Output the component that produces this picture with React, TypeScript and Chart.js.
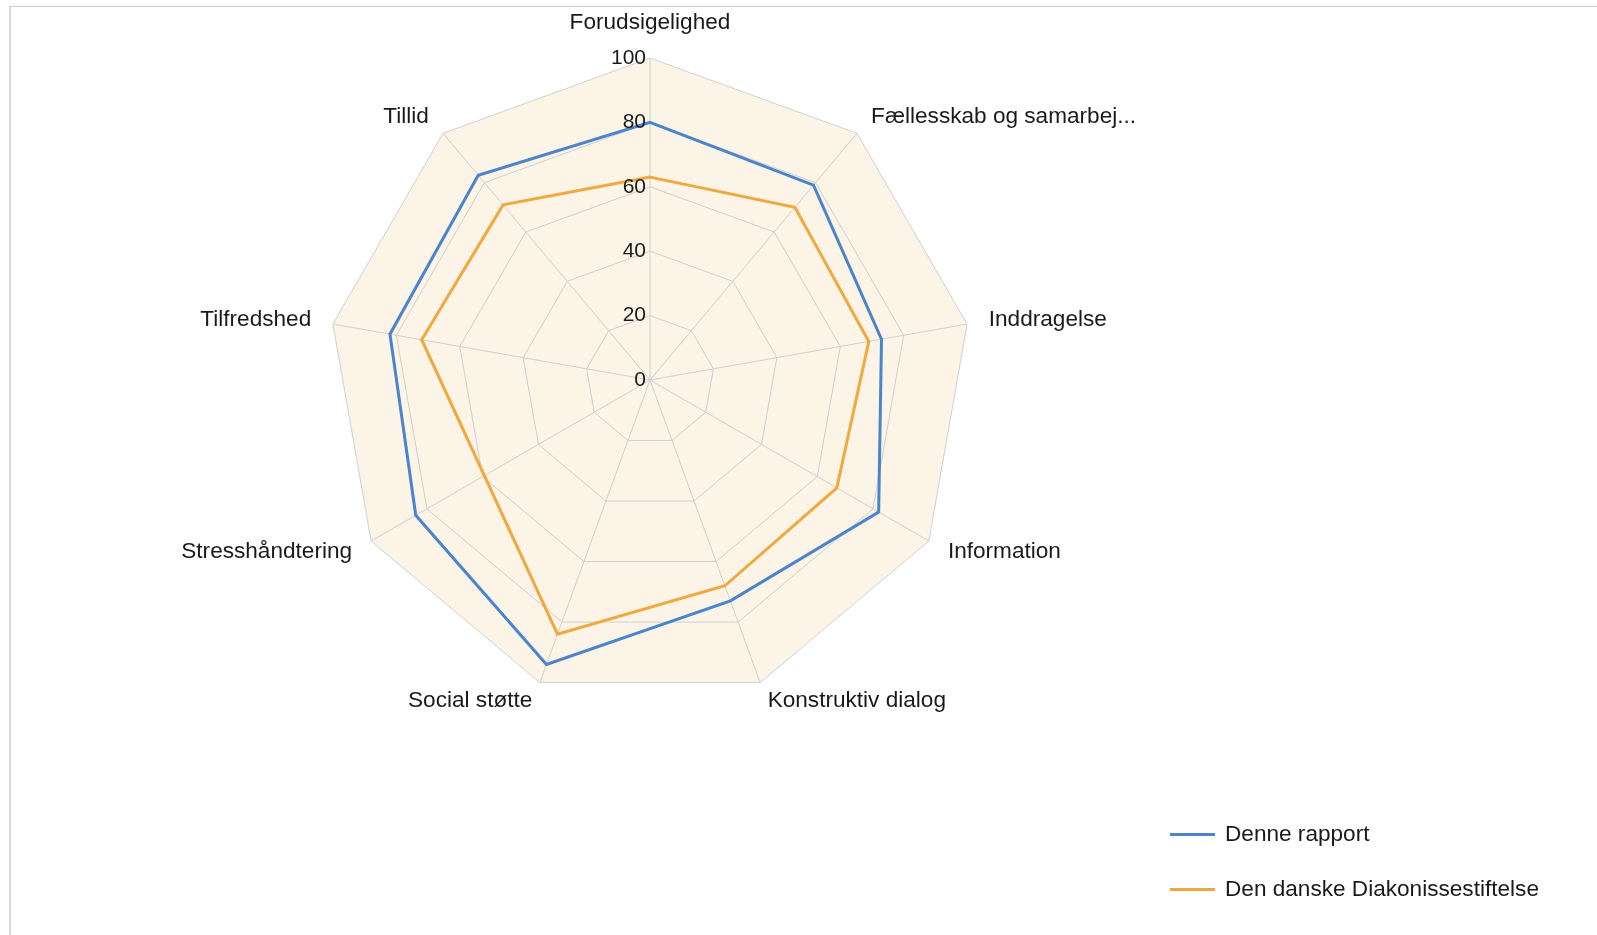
import React, { useEffect, useRef } from 'react';
import { Chart, registerables } from 'chart.js';

Chart.register(...registerables);

const categories = [
  'Forudsigelighed',
  'Fællesskab og samarbej...',
  'Inddragelse',
  'Information',
  'Konstruktiv dialog',
  'Social støtte',
  'Stresshåndtering',
  'Tilfredshed',
  'Tillid',
];
const denneRapport = [80, 79, 73, 82, 73, 94, 84, 82, 83];
const diakonissestiftelse = [63, 70, 69, 67, 68, 84, null, 72, 71];
const seriesNames = ['Denne rapport', 'Den danske Diakonissestiftelse'];
const seriesColors = ['#4a84cc', '#efa93e'];
const tickMin = 0;
const tickMax = 100;
const tickStep = 20;

const FONT = '"Liberation Sans", Arial, sans-serif';
const TEXT = '#1a1a1a';
const W = 1597;
const H = 935;

const labelPlugin = {
  id: 'excelLabels',
  afterDatasetsDraw(chart: any) {
    const scale = chart.scales.r;
    const ctx = chart.ctx;
    ctx.save();
    ctx.fillStyle = TEXT;
    ctx.font = `21px ${FONT}`;
    ctx.textAlign = 'right';
    ctx.textBaseline = 'middle';
    scale.ticks.forEach((t: any) => {
      const d = scale.getDistanceFromCenterForValue(t.value);
      ctx.fillText(String(t.value), scale.xCenter - 4, scale.yCenter - d);
    });
    ctx.font = `22.6px ${FONT}`;
    const labels = chart.data.labels as string[];
    labels.forEach((lab, i) => {
      const p = scale.getPointPosition(i, scale.drawingArea + 22);
      const dx = p.x - scale.xCenter;
      if (Math.abs(dx) < 1) {
        ctx.textAlign = 'center';
        ctx.textBaseline = 'alphabetic';
        ctx.fillText(lab, p.x, p.y - 7);
      } else {
        ctx.textAlign = dx > 0 ? 'left' : 'right';
        ctx.textBaseline = 'middle';
        ctx.fillText(lab, p.x, p.y - (p.y > scale.yCenter + scale.drawingArea * 0.8 ? 2 : 0));
      }
    });
    ctx.restore();
  },
};

export default function App() {
  const ref = useRef<HTMLCanvasElement | null>(null);

  useEffect(() => {
    if (!ref.current) return;
    const chart = new Chart(ref.current, {
      type: 'radar',
      data: {
        labels: categories,
        datasets: [
          {
            label: seriesNames[0],
            data: denneRapport,
            borderColor: seriesColors[0],
            backgroundColor: seriesColors[0],
            borderWidth: 3,
            pointRadius: 0,
            fill: false,
          },
          {
            label: seriesNames[1],
            data: diakonissestiftelse,
            borderColor: seriesColors[1],
            backgroundColor: seriesColors[1],
            borderWidth: 3,
            pointRadius: 0,
            fill: false,
            spanGaps: true,
          },
        ],
      },
      options: {
        responsive: false,
        animation: false,
        layout: { padding: { left: 328, right: 625, top: 58, bottom: 233 } },
        elements: { line: { tension: 0, borderJoinStyle: 'miter' } },
        plugins: { legend: { display: false }, tooltip: { enabled: false } },
        scales: {
          r: {
            min: tickMin,
            max: tickMax,
            backgroundColor: '#fcf4e6',
            ticks: { display: false, stepSize: tickStep },
            pointLabels: { display: false },
            grid: { color: '#d0d0d0', lineWidth: 1 },
            angleLines: { color: '#d0d0d0', lineWidth: 1 },
          },
        },
      } as any,
      plugins: [labelPlugin],
    });
    return () => chart.destroy();
  }, []);

  return (
    <div style={{ position: 'fixed', left: 0, top: 0, width: W, height: H, background: '#ffffff', overflow: 'hidden' }}>
      <div
        style={{
          position: 'absolute',
          left: 9,
          top: 6,
          width: W - 9,
          height: H - 6,
          boxSizing: 'border-box',
          borderTop: '1px solid #cfcfcf',
          borderLeft: '2px solid #d9d9d9',
        }}
      />
      <canvas ref={ref} width={W} height={H} style={{ position: 'absolute', left: 0, top: 0, display: 'block' }} />
      {seriesNames.map((name, i) => (
        <div key={name}>
          <div
            style={{
              position: 'absolute',
              left: 1170,
              top: 833 + i * 55,
              width: 45,
              height: 3,
              background: seriesColors[i],
            }}
          />
          <div
            style={{
              position: 'absolute',
              left: 1225,
              top: 821 + i * 55,
              height: 26,
              lineHeight: '26px',
              fontFamily: FONT,
              fontSize: 22.6,
              color: TEXT,
              whiteSpace: 'nowrap',
            }}
          >
            {name}
          </div>
        </div>
      ))}
    </div>
  );
}
